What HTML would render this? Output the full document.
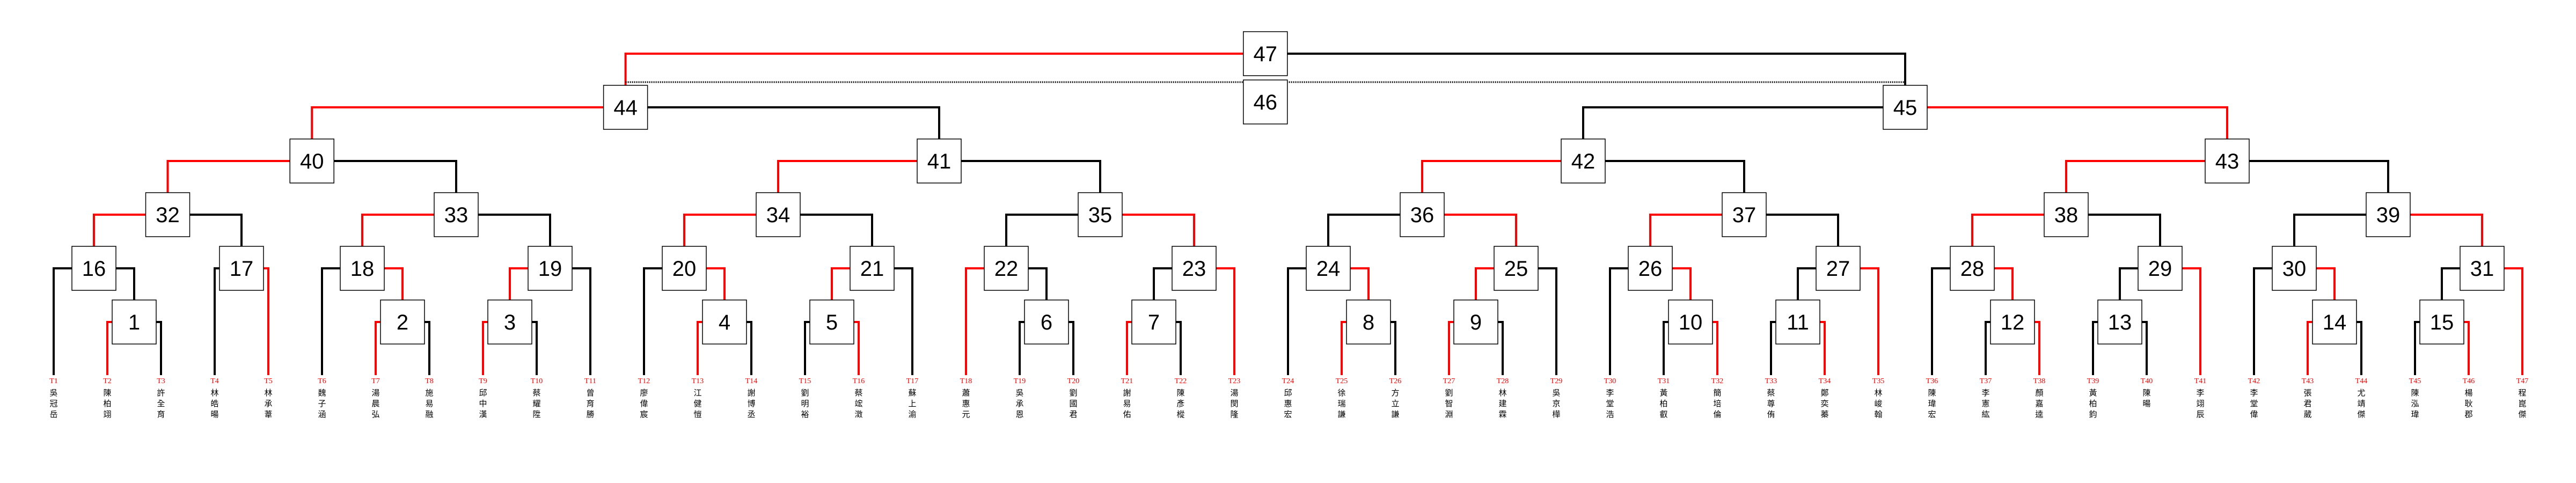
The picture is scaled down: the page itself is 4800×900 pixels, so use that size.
<!DOCTYPE html>
<html><head><meta charset="utf-8"><style>
html,body{margin:0;padding:0;background:#fff;}
svg{display:block;}
.n{font-family:"Liberation Sans",sans-serif;font-size:40px;text-anchor:middle;fill:#000;}
.t{font-family:"Liberation Serif",serif;font-size:14px;text-anchor:middle;fill:#f00;}
.c{font-family:"Liberation Sans","Noto Sans CJK TC",sans-serif;font-size:15px;text-anchor:middle;fill:#000;}
</style></head><body>
<svg width="4800" height="900" viewBox="0 0 4800 900" xmlns="http://www.w3.org/2000/svg">
<rect width="4800" height="900" fill="#fff"/>
<g fill="none" stroke-width="4" stroke-linejoin="miter">
<!-- round1 -->
<g stroke="#f00">
<path d="M209,600H200V699"/><path d="M709,600H700V699"/><path d="M909,600H900V699"/><path d="M1309,600H1300V699"/>
<path d="M1591,600H1600V699"/><path d="M2109,600H2100V699"/><path d="M2509,600H2500V699"/><path d="M2709,600H2700V699"/>
<path d="M3191,600H3200V699"/><path d="M3391,600H3400V699"/><path d="M3791,600H3800V699"/><path d="M4309,600H4300V699"/>
<path d="M4591,600H4600V699"/>
</g>
<g stroke="#000">
<path d="M291,600H300V699"/><path d="M791,600H800V699"/><path d="M991,600H1000V699"/><path d="M1391,600H1400V699"/>
<path d="M1509,600H1500V699"/><path d="M1909,600H1900V699"/><path d="M1991,600H2000V699"/><path d="M2191,600H2200V699"/>
<path d="M2591,600H2600V699"/><path d="M2791,600H2800V699"/><path d="M3109,600H3100V699"/><path d="M3309,600H3300V699"/>
<path d="M3709,600H3700V699"/><path d="M3909,600H3900V699"/><path d="M3991,600H4000V699"/><path d="M4391,600H4400V699"/>
<path d="M4509,600H4500V699"/>
</g>
<!-- round2 -->
<g stroke="#f00">
<path d="M491,500H500V699"/><path d="M716,500H750V559"/><path d="M984,500H950V559"/><path d="M1316,500H1350V559"/>
<path d="M1584,500H1550V559"/><path d="M1834,500H1800V699"/><path d="M2266,500H2300V699"/><path d="M2516,500H2550V559"/>
<path d="M2784,500H2750V559"/><path d="M3116,500H3150V559"/><path d="M3466,500H3500V699"/><path d="M3716,500H3750V559"/>
<path d="M4066,500H4100V699"/><path d="M4316,500H4350V559"/><path d="M4666,500H4700V699"/>
</g>
<g stroke="#000">
<path d="M134,500H100V699"/><path d="M216,500H250V559"/><path d="M409,500H400V699"/><path d="M634,500H600V699"/>
<path d="M1066,500H1100V699"/><path d="M1234,500H1200V699"/><path d="M1666,500H1700V699"/><path d="M1916,500H1950V559"/>
<path d="M2184,500H2150V559"/><path d="M2434,500H2400V699"/><path d="M2866,500H2900V699"/><path d="M3034,500H3000V699"/>
<path d="M3384,500H3350V559"/><path d="M3634,500H3600V699"/><path d="M3984,500H3950V559"/><path d="M4234,500H4200V699"/>
<path d="M4584,500H4550V559"/>
</g>
<!-- round3 -->
<g stroke="#f00">
<path d="M271.5,400H175V459"/><path d="M809,400H675V459"/><path d="M1409,400H1275V459"/><path d="M2091,400H2225V459"/>
<path d="M2691,400H2825V459"/><path d="M3209,400H3075V459"/><path d="M3809,400H3675V459"/><path d="M4491,400H4625V459"/>
</g>
<g stroke="#000">
<path d="M353.5,400H450V459"/><path d="M891,400H1025V459"/><path d="M1491,400H1625V459"/><path d="M2009,400H1875V459"/>
<path d="M2609,400H2475V459"/><path d="M3291,400H3425V459"/><path d="M3891,400H4025V459"/><path d="M4409,400H4275V459"/>
</g>
<!-- round4 -->
<g stroke="#f00">
<path d="M540.25,300H312.5V359"/><path d="M1709,300H1450V359"/><path d="M2909,300H2650V359"/><path d="M4109,300H3850V359"/>
</g>
<g stroke="#000">
<path d="M622.25,300H850V359"/><path d="M1791,300H2050V359"/><path d="M2991,300H3250V359"/><path d="M4191,300H4450V359"/>
</g>
<!-- round5 -->
<path stroke="#f00" d="M1124.6,200H581.25V259"/>
<path stroke="#000" d="M1206.6,200H1750V259"/>
<path stroke="#000" d="M3509,200H2950V259"/>
<path stroke="#f00" d="M3591,200H4150V259"/>
<!-- final -->
<path stroke="#f00" d="M2316.8,100H1165.6V159"/>
<path stroke="#000" d="M2398.8,100H3550V159"/>
<path stroke="#000" stroke-width="3" stroke-dasharray="2 2" d="M1165.6,153H3550"/>
</g>
<!-- boxes -->
<g fill="#fff" stroke="#000" stroke-width="1.5">
<rect x="209" y="559" width="82" height="82"/><rect x="709" y="559" width="82" height="82"/><rect x="909" y="559" width="82" height="82"/>
<rect x="1309" y="559" width="82" height="82"/><rect x="1509" y="559" width="82" height="82"/><rect x="1909" y="559" width="82" height="82"/>
<rect x="2109" y="559" width="82" height="82"/><rect x="2509" y="559" width="82" height="82"/><rect x="2709" y="559" width="82" height="82"/>
<rect x="3109" y="559" width="82" height="82"/><rect x="3309" y="559" width="82" height="82"/><rect x="3709" y="559" width="82" height="82"/>
<rect x="3909" y="559" width="82" height="82"/><rect x="4309" y="559" width="82" height="82"/><rect x="4509" y="559" width="82" height="82"/>
<rect x="134" y="459" width="82" height="82"/><rect x="409" y="459" width="82" height="82"/><rect x="634" y="459" width="82" height="82"/>
<rect x="984" y="459" width="82" height="82"/><rect x="1234" y="459" width="82" height="82"/><rect x="1584" y="459" width="82" height="82"/>
<rect x="1834" y="459" width="82" height="82"/><rect x="2184" y="459" width="82" height="82"/><rect x="2434" y="459" width="82" height="82"/>
<rect x="2784" y="459" width="82" height="82"/><rect x="3034" y="459" width="82" height="82"/><rect x="3384" y="459" width="82" height="82"/>
<rect x="3634" y="459" width="82" height="82"/><rect x="3984" y="459" width="82" height="82"/><rect x="4234" y="459" width="82" height="82"/>
<rect x="4584" y="459" width="82" height="82"/>
<rect x="271.5" y="359" width="82" height="82"/><rect x="809" y="359" width="82" height="82"/><rect x="1409" y="359" width="82" height="82"/>
<rect x="2009" y="359" width="82" height="82"/><rect x="2609" y="359" width="82" height="82"/><rect x="3209" y="359" width="82" height="82"/>
<rect x="3809" y="359" width="82" height="82"/><rect x="4409" y="359" width="82" height="82"/>
<rect x="540.25" y="259" width="82" height="82"/><rect x="1709" y="259" width="82" height="82"/><rect x="2909" y="259" width="82" height="82"/>
<rect x="4109" y="259" width="82" height="82"/>
<rect x="1124.6" y="159" width="82" height="82"/><rect x="3509" y="159" width="82" height="82"/>
<rect x="2316.8" y="59" width="82" height="82"/><rect x="2316.8" y="149" width="82" height="82"/>
</g>
<!-- numbers -->
<g class="n">
<text x="250" y="614">1</text><text x="750" y="614">2</text><text x="950" y="614">3</text><text x="1350" y="614">4</text>
<text x="1550" y="614">5</text><text x="1950" y="614">6</text><text x="2150" y="614">7</text><text x="2550" y="614">8</text>
<text x="2750" y="614">9</text><text x="3150" y="614">10</text><text x="3350" y="614">11</text><text x="3750" y="614">12</text>
<text x="3950" y="614">13</text><text x="4350" y="614">14</text><text x="4550" y="614">15</text>
<text x="175" y="514">16</text><text x="450" y="514">17</text><text x="675" y="514">18</text><text x="1025" y="514">19</text>
<text x="1275" y="514">20</text><text x="1625" y="514">21</text><text x="1875" y="514">22</text><text x="2225" y="514">23</text>
<text x="2475" y="514">24</text><text x="2825" y="514">25</text><text x="3075" y="514">26</text><text x="3425" y="514">27</text>
<text x="3675" y="514">28</text><text x="4025" y="514">29</text><text x="4275" y="514">30</text><text x="4625" y="514">31</text>
<text x="312.5" y="414">32</text><text x="850" y="414">33</text><text x="1450" y="414">34</text><text x="2050" y="414">35</text>
<text x="2650" y="414">36</text><text x="3250" y="414">37</text><text x="3850" y="414">38</text><text x="4450" y="414">39</text>
<text x="581.25" y="314">40</text><text x="1750" y="314">41</text><text x="2950" y="314">42</text><text x="4150" y="314">43</text>
<text x="1165.6" y="214">44</text><text x="3550" y="214">45</text>
<text x="2357.8" y="114">47</text><text x="2357.8" y="204">46</text>
</g>
<!-- leaf labels -->
<g class="t">
<text x="100" y="714">T1</text><text x="200" y="714">T2</text><text x="300" y="714">T3</text><text x="400" y="714">T4</text>
<text x="500" y="714">T5</text><text x="600" y="714">T6</text><text x="700" y="714">T7</text><text x="800" y="714">T8</text>
<text x="900" y="714">T9</text><text x="1000" y="714">T10</text><text x="1100" y="714">T11</text><text x="1200" y="714">T12</text>
<text x="1300" y="714">T13</text><text x="1400" y="714">T14</text><text x="1500" y="714">T15</text><text x="1600" y="714">T16</text>
<text x="1700" y="714">T17</text><text x="1800" y="714">T18</text><text x="1900" y="714">T19</text><text x="2000" y="714">T20</text>
<text x="2100" y="714">T21</text><text x="2200" y="714">T22</text><text x="2300" y="714">T23</text><text x="2400" y="714">T24</text>
<text x="2500" y="714">T25</text><text x="2600" y="714">T26</text><text x="2700" y="714">T27</text><text x="2800" y="714">T28</text>
<text x="2900" y="714">T29</text><text x="3000" y="714">T30</text><text x="3100" y="714">T31</text><text x="3200" y="714">T32</text>
<text x="3300" y="714">T33</text><text x="3400" y="714">T34</text><text x="3500" y="714">T35</text><text x="3600" y="714">T36</text>
<text x="3700" y="714">T37</text><text x="3800" y="714">T38</text><text x="3900" y="714">T39</text><text x="4000" y="714">T40</text>
<text x="4100" y="714">T41</text><text x="4200" y="714">T42</text><text x="4300" y="714">T43</text><text x="4400" y="714">T44</text>
<text x="4500" y="714">T45</text><text x="4600" y="714">T46</text><text x="4700" y="714">T47</text>
</g>
<g class="c">
<text x="100"><tspan x="100" y="737">吳</tspan><tspan x="100" y="757">冠</tspan><tspan x="100" y="777">岳</tspan></text>
<text x="200"><tspan x="200" y="737">陳</tspan><tspan x="200" y="757">柏</tspan><tspan x="200" y="777">翊</tspan></text>
<text x="300"><tspan x="300" y="737">許</tspan><tspan x="300" y="757">全</tspan><tspan x="300" y="777">育</tspan></text>
<text x="400"><tspan x="400" y="737">林</tspan><tspan x="400" y="757">皓</tspan><tspan x="400" y="777">暘</tspan></text>
<text x="500"><tspan x="500" y="737">林</tspan><tspan x="500" y="757">承</tspan><tspan x="500" y="777">葦</tspan></text>
<text x="600"><tspan x="600" y="737">魏</tspan><tspan x="600" y="757">子</tspan><tspan x="600" y="777">涵</tspan></text>
<text x="700"><tspan x="700" y="737">湯</tspan><tspan x="700" y="757">晨</tspan><tspan x="700" y="777">弘</tspan></text>
<text x="800"><tspan x="800" y="737">施</tspan><tspan x="800" y="757">易</tspan><tspan x="800" y="777">融</tspan></text>
<text x="900"><tspan x="900" y="737">邱</tspan><tspan x="900" y="757">中</tspan><tspan x="900" y="777">漢</tspan></text>
<text x="1000"><tspan x="1000" y="737">蔡</tspan><tspan x="1000" y="757">耀</tspan><tspan x="1000" y="777">陞</tspan></text>
<text x="1100"><tspan x="1100" y="737">曾</tspan><tspan x="1100" y="757">育</tspan><tspan x="1100" y="777">勝</tspan></text>
<text x="1200"><tspan x="1200" y="737">廖</tspan><tspan x="1200" y="757">偉</tspan><tspan x="1200" y="777">宸</tspan></text>
<text x="1300"><tspan x="1300" y="737">江</tspan><tspan x="1300" y="757">健</tspan><tspan x="1300" y="777">愷</tspan></text>
<text x="1400"><tspan x="1400" y="737">謝</tspan><tspan x="1400" y="757">博</tspan><tspan x="1400" y="777">丞</tspan></text>
<text x="1500"><tspan x="1500" y="737">劉</tspan><tspan x="1500" y="757">明</tspan><tspan x="1500" y="777">裕</tspan></text>
<text x="1600"><tspan x="1600" y="737">蔡</tspan><tspan x="1600" y="757">竤</tspan><tspan x="1600" y="777">澂</tspan></text>
<text x="1700"><tspan x="1700" y="737">蘇</tspan><tspan x="1700" y="757">上</tspan><tspan x="1700" y="777">渝</tspan></text>
<text x="1800"><tspan x="1800" y="737">蕭</tspan><tspan x="1800" y="757">惠</tspan><tspan x="1800" y="777">元</tspan></text>
<text x="1900"><tspan x="1900" y="737">吳</tspan><tspan x="1900" y="757">承</tspan><tspan x="1900" y="777">恩</tspan></text>
<text x="2000"><tspan x="2000" y="737">劉</tspan><tspan x="2000" y="757">國</tspan><tspan x="2000" y="777">君</tspan></text>
<text x="2100"><tspan x="2100" y="737">謝</tspan><tspan x="2100" y="757">易</tspan><tspan x="2100" y="777">佑</tspan></text>
<text x="2200"><tspan x="2200" y="737">陳</tspan><tspan x="2200" y="757">彥</tspan><tspan x="2200" y="777">樅</tspan></text>
<text x="2300"><tspan x="2300" y="737">湯</tspan><tspan x="2300" y="757">閔</tspan><tspan x="2300" y="777">隆</tspan></text>
<text x="2400"><tspan x="2400" y="737">邱</tspan><tspan x="2400" y="757">惠</tspan><tspan x="2400" y="777">宏</tspan></text>
<text x="2500"><tspan x="2500" y="737">徐</tspan><tspan x="2500" y="757">瑞</tspan><tspan x="2500" y="777">謙</tspan></text>
<text x="2600"><tspan x="2600" y="737">方</tspan><tspan x="2600" y="757">立</tspan><tspan x="2600" y="777">謙</tspan></text>
<text x="2700"><tspan x="2700" y="737">劉</tspan><tspan x="2700" y="757">智</tspan><tspan x="2700" y="777">淵</tspan></text>
<text x="2800"><tspan x="2800" y="737">林</tspan><tspan x="2800" y="757">建</tspan><tspan x="2800" y="777">霖</tspan></text>
<text x="2900"><tspan x="2900" y="737">吳</tspan><tspan x="2900" y="757">京</tspan><tspan x="2900" y="777">樺</tspan></text>
<text x="3000"><tspan x="3000" y="737">李</tspan><tspan x="3000" y="757">堂</tspan><tspan x="3000" y="777">浩</tspan></text>
<text x="3100"><tspan x="3100" y="737">黃</tspan><tspan x="3100" y="757">柏</tspan><tspan x="3100" y="777">叡</tspan></text>
<text x="3200"><tspan x="3200" y="737">簡</tspan><tspan x="3200" y="757">培</tspan><tspan x="3200" y="777">倫</tspan></text>
<text x="3300"><tspan x="3300" y="737">蔡</tspan><tspan x="3300" y="757">尊</tspan><tspan x="3300" y="777">侑</tspan></text>
<text x="3400"><tspan x="3400" y="737">鄭</tspan><tspan x="3400" y="757">奕</tspan><tspan x="3400" y="777">蓁</tspan></text>
<text x="3500"><tspan x="3500" y="737">林</tspan><tspan x="3500" y="757">峻</tspan><tspan x="3500" y="777">翰</tspan></text>
<text x="3600"><tspan x="3600" y="737">陳</tspan><tspan x="3600" y="757">瑋</tspan><tspan x="3600" y="777">宏</tspan></text>
<text x="3700"><tspan x="3700" y="737">李</tspan><tspan x="3700" y="757">憲</tspan><tspan x="3700" y="777">紘</tspan></text>
<text x="3800"><tspan x="3800" y="737">顏</tspan><tspan x="3800" y="757">嘉</tspan><tspan x="3800" y="777">逵</tspan></text>
<text x="3900"><tspan x="3900" y="737">黃</tspan><tspan x="3900" y="757">柏</tspan><tspan x="3900" y="777">鈞</tspan></text>
<text x="4000"><tspan x="4000" y="737">陳</tspan><tspan x="4000" y="757">暘</tspan></text>
<text x="4100"><tspan x="4100" y="737">李</tspan><tspan x="4100" y="757">翊</tspan><tspan x="4100" y="777">辰</tspan></text>
<text x="4200"><tspan x="4200" y="737">李</tspan><tspan x="4200" y="757">堂</tspan><tspan x="4200" y="777">偉</tspan></text>
<text x="4300"><tspan x="4300" y="737">張</tspan><tspan x="4300" y="757">君</tspan><tspan x="4300" y="777">葳</tspan></text>
<text x="4400"><tspan x="4400" y="737">尤</tspan><tspan x="4400" y="757">靖</tspan><tspan x="4400" y="777">傑</tspan></text>
<text x="4500"><tspan x="4500" y="737">陳</tspan><tspan x="4500" y="757">泓</tspan><tspan x="4500" y="777">瑋</tspan></text>
<text x="4600"><tspan x="4600" y="737">楊</tspan><tspan x="4600" y="757">耿</tspan><tspan x="4600" y="777">郡</tspan></text>
<text x="4700"><tspan x="4700" y="737">程</tspan><tspan x="4700" y="757">崑</tspan><tspan x="4700" y="777">傑</tspan></text>
</g>
</svg>
</body></html>
